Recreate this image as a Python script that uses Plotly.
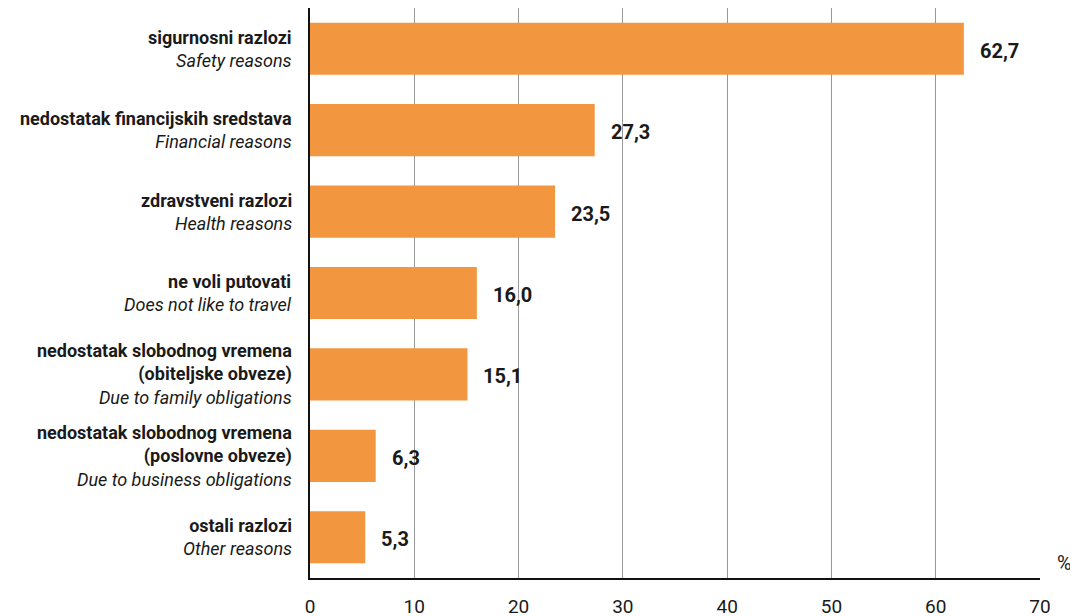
import plotly.graph_objects as go

# Data
labels_hr = [
    "sigurnosni razlozi",
    "nedostatak financijskih sredstava",
    "zdravstveni razlozi",
    "ne voli putovati",
    "nedostatak slobodnog vremena<br>(obiteljske obveze)",
    "nedostatak slobodnog vremena<br>(poslovne obveze)",
    "ostali razlozi",
]
labels_en = [
    "Safety reasons",
    "Financial reasons",
    "Health reasons",
    "Does not like to travel",
    "Due to family obligations",
    "Due to business obligations",
    "Other reasons",
]
values = [62.7, 27.3, 23.5, 16.0, 15.1, 6.3, 5.3]
x_ticks = [0, 10, 20, 30, 40, 50, 60, 70]

FONT = "Roboto, Arial, sans-serif"
BAR = "#F39640"

cats = list(range(len(values)))

fig = go.Figure()
fig.add_trace(go.Bar(
    x=values, y=cats, orientation="h",
    marker=dict(color=BAR, line=dict(width=0)),
    width=0.64, hoverinfo="skip",
))

annotations = []
for i, (v, hr, en) in enumerate(zip(values, labels_hr, labels_en)):
    annotations.append(dict(
        x=v, y=i, xref="x", yref="y", xanchor="left", yanchor="middle",
        xshift=14, yshift=-2, showarrow=False,
        text="<b>" + f"{v:.1f}".replace(".", ",") + "</b>",
        font=dict(family=FONT, size=20, color="#1a1a1a"),
    ))
    hr_b = "<br>".join("<b>" + s + "</b>" for s in hr.split("<br>"))
    annotations.append(dict(
        x=0, y=i, xref="paper", yref="y", xanchor="right", yanchor="middle",
        xshift=-16, showarrow=False, align="right",
        text=hr_b + "<br><i>" + en + "</i>",
        font=dict(family=FONT, size=18, color="#1a1a1a"),
    ))

annotations.append(dict(
    x=1, y=0, xref="paper", yref="paper", xanchor="left", yanchor="bottom",
    xshift=15, yshift=1, showarrow=False, text="%",
    font=dict(family=FONT, size=20, color="#1a1a1a"),
))

# page body has an 8px default margin, so offsets compensate for it
fig.update_layout(
    width=1078, height=616,
    margin=dict(l=302, r=46, t=0, b=46, autoexpand=False),
    paper_bgcolor="white", plot_bgcolor="white",
    showlegend=False,
    annotations=annotations,
    xaxis=dict(
        range=[0, 70], tickvals=x_ticks, ticktext=[str(t) for t in x_ticks],
        showgrid=True, gridcolor="#999999", gridwidth=1,
        showline=True, linecolor="#111111", linewidth=2,
        ticks="", ticklabelstandoff=10,
        tickfont=dict(family=FONT, size=19, color="#1a1a1a"),
        zeroline=False, fixedrange=True,
    ),
    yaxis=dict(
        range=[6.5, -0.5], showticklabels=False, showgrid=False,
        showline=True, linecolor="#111111", linewidth=2,
        zeroline=False, ticks="", fixedrange=True,
    ),
)

fig.write_html("out.html")
